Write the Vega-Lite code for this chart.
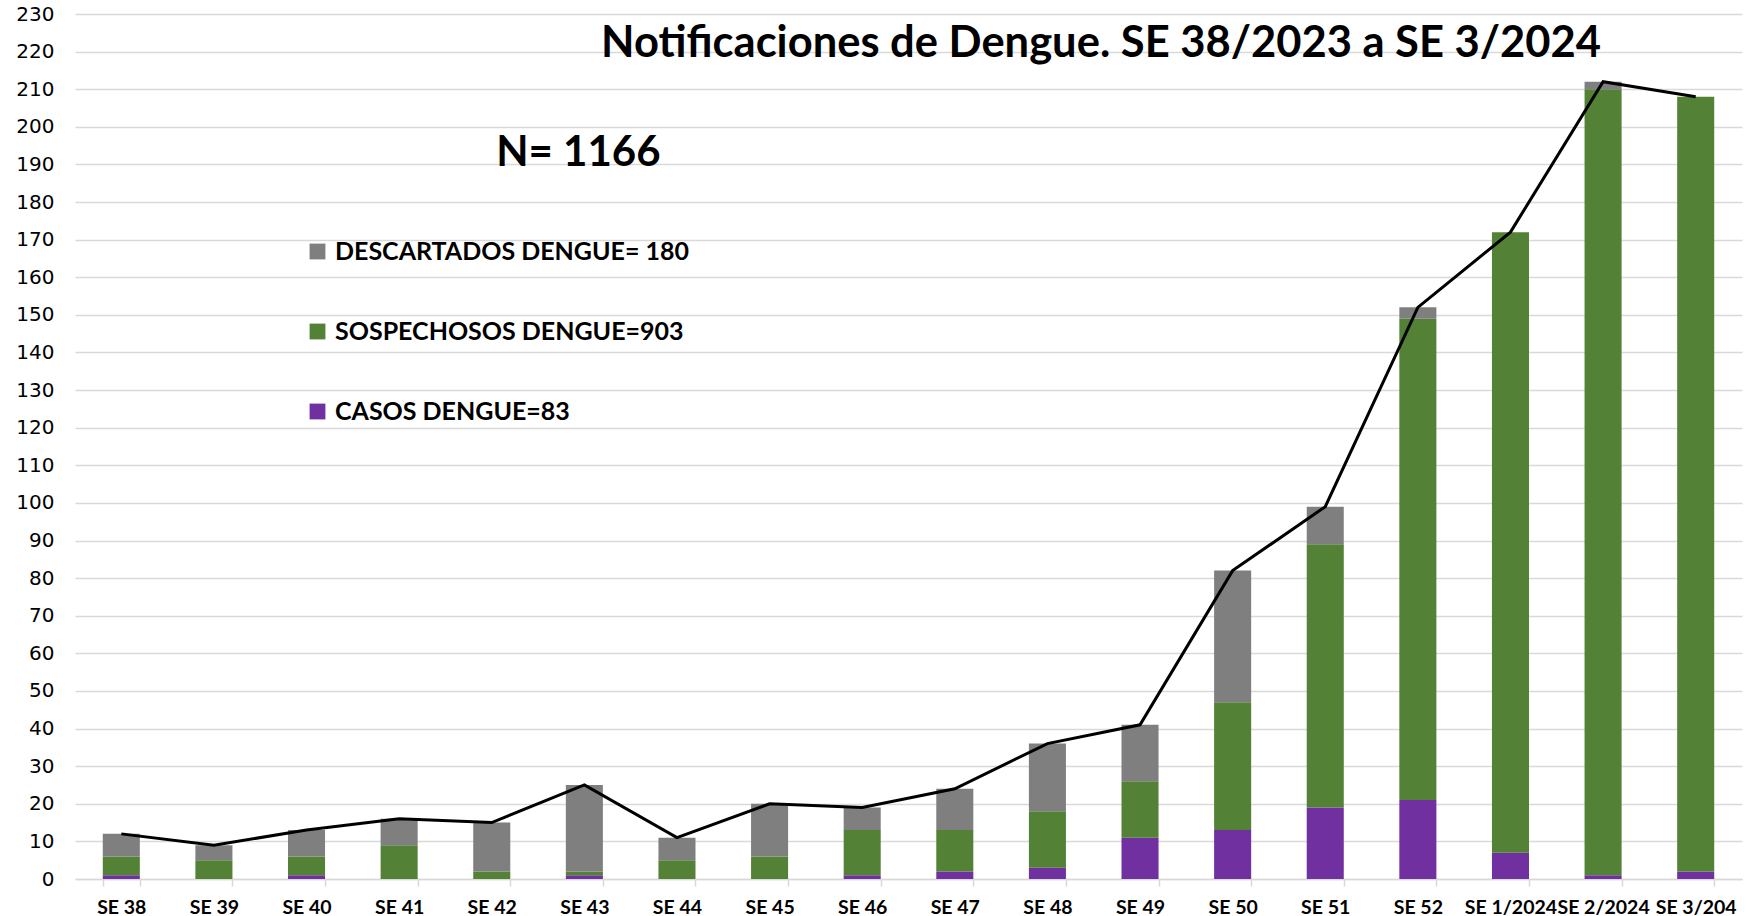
{
  "$schema": "https://vega.github.io/schema/vega-lite/v6.json",
  "width": 1667,
  "height": 865,
  "autosize": {"type": "none"},
  "padding": {"left": 75, "top": 14, "right": 8, "bottom": 37},
  "background": "white",
  "config": {"view": {"stroke": null}},
  "datasets": {
    "notif": [
      {"semana": "SE 38", "serie": "CASOS DENGUE=83", "n": 1},
      {"semana": "SE 38", "serie": "SOSPECHOSOS DENGUE=903", "n": 5},
      {"semana": "SE 38", "serie": "DESCARTADOS DENGUE= 180", "n": 6},
      {"semana": "SE 39", "serie": "CASOS DENGUE=83", "n": 0},
      {"semana": "SE 39", "serie": "SOSPECHOSOS DENGUE=903", "n": 5},
      {"semana": "SE 39", "serie": "DESCARTADOS DENGUE= 180", "n": 4},
      {"semana": "SE 40", "serie": "CASOS DENGUE=83", "n": 1},
      {"semana": "SE 40", "serie": "SOSPECHOSOS DENGUE=903", "n": 5},
      {"semana": "SE 40", "serie": "DESCARTADOS DENGUE= 180", "n": 7},
      {"semana": "SE 41", "serie": "CASOS DENGUE=83", "n": 0},
      {"semana": "SE 41", "serie": "SOSPECHOSOS DENGUE=903", "n": 9},
      {"semana": "SE 41", "serie": "DESCARTADOS DENGUE= 180", "n": 7},
      {"semana": "SE 42", "serie": "CASOS DENGUE=83", "n": 0},
      {"semana": "SE 42", "serie": "SOSPECHOSOS DENGUE=903", "n": 2},
      {"semana": "SE 42", "serie": "DESCARTADOS DENGUE= 180", "n": 13},
      {"semana": "SE 43", "serie": "CASOS DENGUE=83", "n": 1},
      {"semana": "SE 43", "serie": "SOSPECHOSOS DENGUE=903", "n": 1},
      {"semana": "SE 43", "serie": "DESCARTADOS DENGUE= 180", "n": 23},
      {"semana": "SE 44", "serie": "CASOS DENGUE=83", "n": 0},
      {"semana": "SE 44", "serie": "SOSPECHOSOS DENGUE=903", "n": 5},
      {"semana": "SE 44", "serie": "DESCARTADOS DENGUE= 180", "n": 6},
      {"semana": "SE 45", "serie": "CASOS DENGUE=83", "n": 0},
      {"semana": "SE 45", "serie": "SOSPECHOSOS DENGUE=903", "n": 6},
      {"semana": "SE 45", "serie": "DESCARTADOS DENGUE= 180", "n": 14},
      {"semana": "SE 46", "serie": "CASOS DENGUE=83", "n": 1},
      {"semana": "SE 46", "serie": "SOSPECHOSOS DENGUE=903", "n": 12},
      {"semana": "SE 46", "serie": "DESCARTADOS DENGUE= 180", "n": 6},
      {"semana": "SE 47", "serie": "CASOS DENGUE=83", "n": 2},
      {"semana": "SE 47", "serie": "SOSPECHOSOS DENGUE=903", "n": 11},
      {"semana": "SE 47", "serie": "DESCARTADOS DENGUE= 180", "n": 11},
      {"semana": "SE 48", "serie": "CASOS DENGUE=83", "n": 3},
      {"semana": "SE 48", "serie": "SOSPECHOSOS DENGUE=903", "n": 15},
      {"semana": "SE 48", "serie": "DESCARTADOS DENGUE= 180", "n": 18},
      {"semana": "SE 49", "serie": "CASOS DENGUE=83", "n": 11},
      {"semana": "SE 49", "serie": "SOSPECHOSOS DENGUE=903", "n": 15},
      {"semana": "SE 49", "serie": "DESCARTADOS DENGUE= 180", "n": 15},
      {"semana": "SE 50", "serie": "CASOS DENGUE=83", "n": 13},
      {"semana": "SE 50", "serie": "SOSPECHOSOS DENGUE=903", "n": 34},
      {"semana": "SE 50", "serie": "DESCARTADOS DENGUE= 180", "n": 35},
      {"semana": "SE 51", "serie": "CASOS DENGUE=83", "n": 19},
      {"semana": "SE 51", "serie": "SOSPECHOSOS DENGUE=903", "n": 70},
      {"semana": "SE 51", "serie": "DESCARTADOS DENGUE= 180", "n": 10},
      {"semana": "SE 52", "serie": "CASOS DENGUE=83", "n": 21},
      {"semana": "SE 52", "serie": "SOSPECHOSOS DENGUE=903", "n": 128},
      {"semana": "SE 52", "serie": "DESCARTADOS DENGUE= 180", "n": 3},
      {"semana": "SE 1/2024", "serie": "CASOS DENGUE=83", "n": 7},
      {"semana": "SE 1/2024", "serie": "SOSPECHOSOS DENGUE=903", "n": 165},
      {"semana": "SE 1/2024", "serie": "DESCARTADOS DENGUE= 180", "n": 0},
      {"semana": "SE 2/2024", "serie": "CASOS DENGUE=83", "n": 1},
      {"semana": "SE 2/2024", "serie": "SOSPECHOSOS DENGUE=903", "n": 209},
      {"semana": "SE 2/2024", "serie": "DESCARTADOS DENGUE= 180", "n": 2},
      {"semana": "SE 3/204", "serie": "CASOS DENGUE=83", "n": 2},
      {"semana": "SE 3/204", "serie": "SOSPECHOSOS DENGUE=903", "n": 206},
      {"semana": "SE 3/204", "serie": "DESCARTADOS DENGUE= 180", "n": 0}
    ],
    "total": [
      {"semana": "SE 38", "n": 12},
      {"semana": "SE 39", "n": 9},
      {"semana": "SE 40", "n": 13},
      {"semana": "SE 41", "n": 16},
      {"semana": "SE 42", "n": 15},
      {"semana": "SE 43", "n": 25},
      {"semana": "SE 44", "n": 11},
      {"semana": "SE 45", "n": 20},
      {"semana": "SE 46", "n": 19},
      {"semana": "SE 47", "n": 24},
      {"semana": "SE 48", "n": 36},
      {"semana": "SE 49", "n": 41},
      {"semana": "SE 50", "n": 82},
      {"semana": "SE 51", "n": 99},
      {"semana": "SE 52", "n": 152},
      {"semana": "SE 1/2024", "n": 172},
      {"semana": "SE 2/2024", "n": 212},
      {"semana": "SE 3/204", "n": 208}
    ]
  },
  "encoding": {
    "x": {
      "field": "semana",
      "type": "nominal",
      "sort": ["SE 38","SE 39","SE 40","SE 41","SE 42","SE 43","SE 44","SE 45","SE 46","SE 47","SE 48","SE 49","SE 50","SE 51","SE 52","SE 1/2024","SE 2/2024","SE 3/204"],
      "scale": {"paddingInner": 0.6, "paddingOuter": 0.3},
      "axis": {
        "title": null,
        "labelAngle": 0,
        "labelFont": "Lato",
        "labelFontWeight": "bold",
        "labelFontSize": 19.5,
        "labelColor": "#000000",
        "labelPadding": 12,
        "labelOverlap": false,
        "labelBound": false,
        "tickBand": "extent",
        "tickColor": "#d9d9d9",
        "tickWidth": 1.5,
        "tickSize": 7,
        "domainColor": "#d9d9d9",
        "domainWidth": 1.5,
        "grid": false
      }
    },
    "y": {
      "field": "n",
      "type": "quantitative",
      "scale": {"domain": [0, 230], "nice": false, "zero": true},
      "axis": {
        "title": null,
        "values": [0,10,20,30,40,50,60,70,80,90,100,110,120,130,140,150,160,170,180,190,200,210,220,230],
        "tickCount": 40,
        "grid": true,
        "gridColor": "#d9d9d9",
        "gridWidth": 1.5,
        "domain": false,
        "ticks": false,
        "labelOverlap": false,
        "labelFont": "DejaVu Sans",
        "labelFontSize": 20,
        "labelColor": "#000000",
        "labelPadding": 21
      }
    }
  },
  "layer": [
    {
      "data": {"name": "notif"},
      "transform": [
        {"calculate": "indexof(['CASOS DENGUE=83', 'SOSPECHOSOS DENGUE=903', 'DESCARTADOS DENGUE= 180'], datum.serie)", "as": "orden"}
      ],
      "mark": {"type": "bar"},
      "encoding": {
        "order": {"field": "orden", "type": "quantitative", "sort": "ascending"},
        "color": {
          "field": "serie",
          "type": "nominal",
          "scale": {
            "domain": ["DESCARTADOS DENGUE= 180", "SOSPECHOSOS DENGUE=903", "CASOS DENGUE=83"],
            "range": ["#7f7f7f", "#538135", "#7030a0"]
          },
          "legend": {
            "orient": "none",
            "legendX": 230,
            "legendY": 225,
            "title": null,
            "symbolType": "square",
            "symbolSize": 250,
            "symbolStrokeWidth": 0,
            "labelFont": "Lato",
            "labelFontWeight": "bold",
            "labelFontSize": 25,
            "labelColor": "#000000",
            "labelLimit": 0,
            "labelOffset": 5,
            "rowPadding": 54
          }
        }
      }
    },
    {
      "data": {"name": "total"},
      "mark": {"type": "line", "color": "#000000", "strokeWidth": 3},
      "encoding": {}
    },
    {
      "data": {"values": [{"semana": "SE 43", "n": 190, "t": "N= 1166"}]},
      "mark": {"type": "text", "font": "Lato", "fontWeight": "bold", "fontSize": 42, "align": "center", "baseline": "alphabetic", "dx": -6, "dy": 2, "color": "#000000"},
      "encoding": {"text": {"field": "t"}}
    },
    {
      "data": {"values": [{"semana": "SE 49", "n": 218.5, "t": "Notificaciones de Dengue. SE 38/2023 a SE 3/2024"}]},
      "mark": {"type": "text", "font": "Lato", "fontWeight": "bold", "fontSize": 43.5, "align": "center", "baseline": "alphabetic", "dx": -39, "color": "#000000"},
      "encoding": {"text": {"field": "t"}}
    }
  ]
}
